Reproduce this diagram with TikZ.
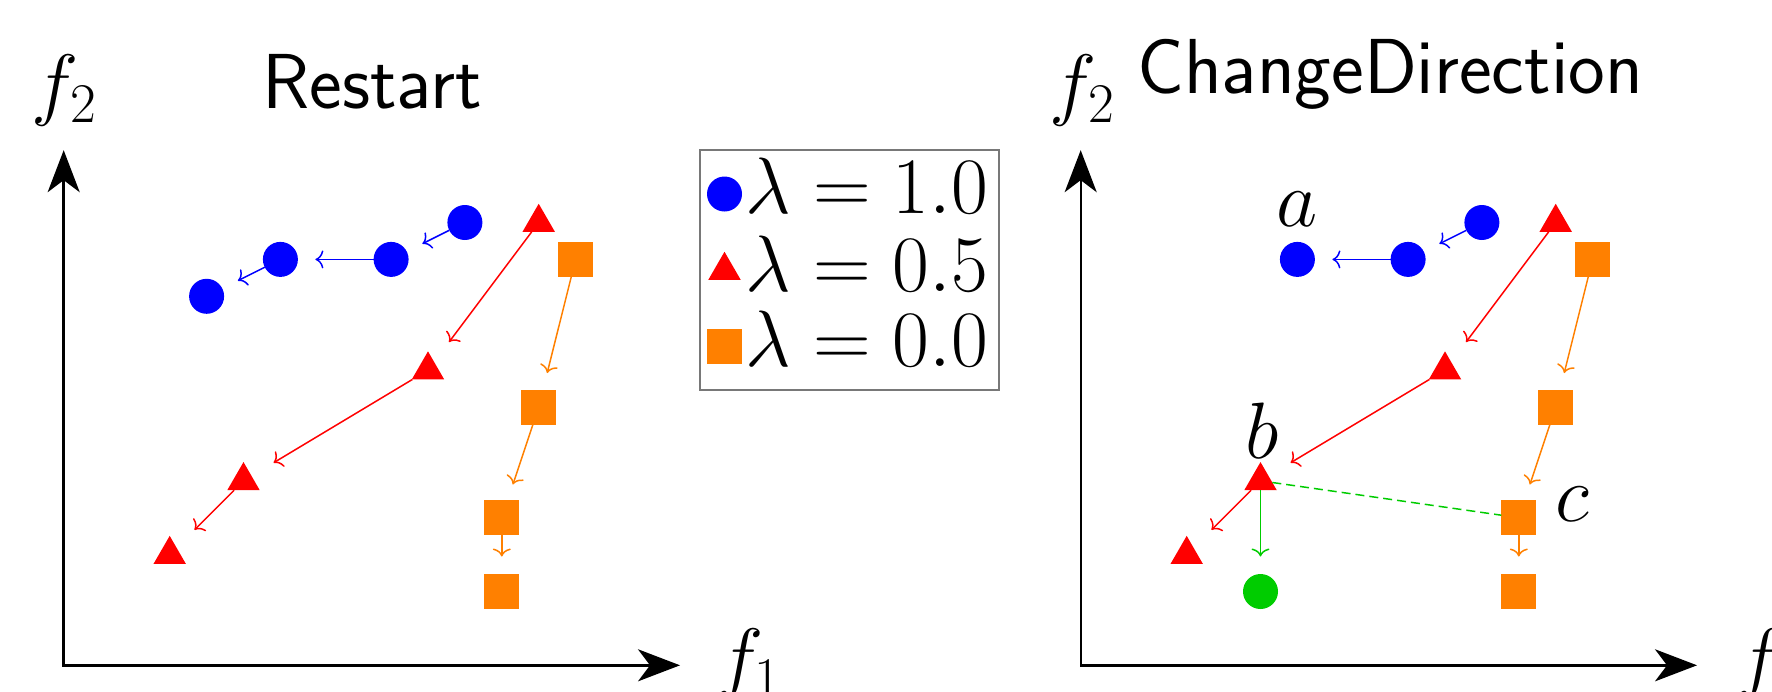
\documentclass[tikz,border=0pt]{standalone}
\usepackage{fix-cm}
\usetikzlibrary{arrows.meta,shapes.geometric,calc}
\definecolor{cblue}{RGB}{0,0,255}
\definecolor{cred}{RGB}{255,0,0}
\definecolor{corange}{RGB}{255,128,0}
\definecolor{cgreen}{RGB}{0,204,0}
\definecolor{cframe}{RGB}{120,120,120}
\tikzset{
  dotmark/.style={circle,fill=#1,draw=none,inner sep=0pt,outer sep=0pt,minimum size=35pt},
  trimark/.style={regular polygon,regular polygon sides=3,fill=cred,draw=none,inner sep=0pt,outer sep=0pt,minimum size=37.5pt},
  sqmark/.style={rectangle,fill=corange,draw=none,inner sep=0pt,outer sep=0pt,minimum size=35pt},
  mv/.style={draw=#1,line width=1.5pt,-{Computer Modern Rightarrow[length=8pt,width=18pt]}},
  axisline/.style={line width=2.4pt,{Stealth[length=42pt,width=32pt,inset=12pt]}-{Stealth[length=42pt,width=32pt,inset=12pt]}},
  mathlbl/.style={inner sep=0pt,font=\fontsize{80}{96}\selectfont},
  titlelbl/.style={inner sep=0pt,font=\fontsize{78}{94}\selectfont\sffamily},
}
\begin{document}
\begin{tikzpicture}[x=1pt,y=-1pt]
\useasboundingbox (0,0) rectangle (1772,691);

% ---------- left panel ----------
\begin{scope}[shift={(169.7,665.3)},x=36.9pt,y=36.9pt]
\coordinate (Ltop) at (-2.873,13.96);
\coordinate (Lorg) at (-2.873,0);
\coordinate (Lright) at (13.83,0);
\draw[axisline] (Ltop) -- (Lorg) -- (Lright);
\node[dotmark=cblue] (LB1) at (8,12) {};
\node[dotmark=cblue] (LB2) at (6,11) {};
\node[dotmark=cblue] (LB3) at (3,11) {};
\node[dotmark=cblue] (LB4) at (1,10) {};
\node[trimark] (LT1) at (10,12) {};
\node[trimark] (LT2) at (7,8) {};
\node[trimark] (LT3) at (2,5) {};
\node[trimark] (LT4) at (0,3) {};
\node[sqmark] (LS1) at (11,11) {};
\node[sqmark] (LS2) at (10,7) {};
\node[sqmark] (LS3) at (9,4) {};
\node[sqmark] (LS4) at (9,2) {};
\end{scope}
\draw[mv=cblue] (LB1) -- ($(LB2.center)!35pt!(LB1.center)$);
\draw[mv=cblue] (LB2) -- ($(LB3.center)!35pt!(LB2.center)$);
\draw[mv=cblue] (LB3) -- ($(LB4.center)!35pt!(LB3.center)$);
\draw[mv=cred] (LT1) -- ($(LT2.center)!35pt!(LT1.center)$);
\draw[mv=cred] (LT2) -- ($(LT3.center)!35pt!(LT2.center)$);
\draw[mv=cred] (LT3) -- ($(LT4.center)!35pt!(LT3.center)$);
\draw[mv=corange] (LS1) -- ($(LS2.center)!35pt!(LS1.center)$);
\draw[mv=corange] (LS2) -- ($(LS3.center)!35pt!(LS2.center)$);
\draw[mv=corange] (LS3) -- ($(LS4.center)!35pt!(LS3.center)$);
\node[titlelbl,anchor=base] (tL) at (372,108) {Restart};
\node[mathlbl,anchor=base] (f2L) at (64,110) {$f_2$};
\node[mathlbl,anchor=base west] (f1L) at (716,684) {$f_1$};

% ---------- legend ----------
\node[draw=cframe,line width=1.5pt,inner sep=0pt,minimum width=299pt,minimum height=240pt] (leg) at (849.5,270) {};
\node[dotmark=cblue] (lg1) at (724.5,194) {};
\node[trimark] (lg2) at (724.5,270.5) {};
\node[sqmark] (lg3) at (724.5,346.5) {};
\node[mathlbl,anchor=base west] (lt1) at (745,213) {$\lambda=1.0$};
\node[mathlbl,anchor=base west] (lt2) at (745,291.5) {$\lambda=0.5$};
\node[mathlbl,anchor=base west] (lt3) at (745,366.5) {$\lambda=0.0$};

% ---------- right panel ----------
\begin{scope}[shift={(1186.7,665.3)},x=36.9pt,y=36.9pt]
\coordinate (Rtop) at (-2.873,13.96);
\coordinate (Rorg) at (-2.873,0);
\coordinate (Rright) at (13.83,0);
\draw[axisline] (Rtop) -- (Rorg) -- (Rright);
\node[dotmark=cblue] (RB1) at (8,12) {};
\node[dotmark=cblue] (RB2) at (6,11) {};
\node[dotmark=cblue] (RB3) at (3,11) {};
\node[trimark] (RT1) at (10,12) {};
\node[trimark] (RT2) at (7,8) {};
\node[trimark] (RT3) at (2,5) {};
\node[trimark] (RT4) at (0,3) {};
\node[sqmark] (RS1) at (11,11) {};
\node[sqmark] (RS2) at (10,7) {};
\node[sqmark] (RS3) at (9,4) {};
\node[sqmark] (RS4) at (9,2) {};
\node[dotmark=cgreen] (RG) at (2,2) {};
\end{scope}
\draw[cgreen,line width=1.5pt,dash pattern=on 9pt off 5pt] (RT3) -- (RS3);
\draw[mv=cblue] (RB1) -- ($(RB2.center)!35pt!(RB1.center)$);
\draw[mv=cblue] (RB2) -- ($(RB3.center)!35pt!(RB2.center)$);
\draw[mv=cred] (RT1) -- ($(RT2.center)!35pt!(RT1.center)$);
\draw[mv=cred] (RT2) -- ($(RT3.center)!35pt!(RT2.center)$);
\draw[mv=cred] (RT3) -- ($(RT4.center)!35pt!(RT3.center)$);
\draw[mv=corange] (RS1) -- ($(RS2.center)!35pt!(RS1.center)$);
\draw[mv=corange] (RS2) -- ($(RS3.center)!35pt!(RS2.center)$);
\draw[mv=corange] (RS3) -- ($(RS4.center)!35pt!(RS3.center)$);
\draw[mv=cgreen] (RT3) -- ($(RG.center)!35pt!(RT3.center)$);
\node[titlelbl,anchor=base] (tR) at (1390,93) {ChangeDirection};
\node[mathlbl,anchor=base] (f2R) at (1082,110) {$f_2$};
\node[mathlbl,anchor=base west] (f1R) at (1736,684) {$f_1$};
\node[mathlbl,anchor=base] (la) at (1297.4,226) {$a$};
\node[mathlbl,anchor=base] (lb) at (1262,458) {$b$};
\node[mathlbl,anchor=base] (lc) at (1572,521) {$c$};
\end{tikzpicture}
\end{document}
